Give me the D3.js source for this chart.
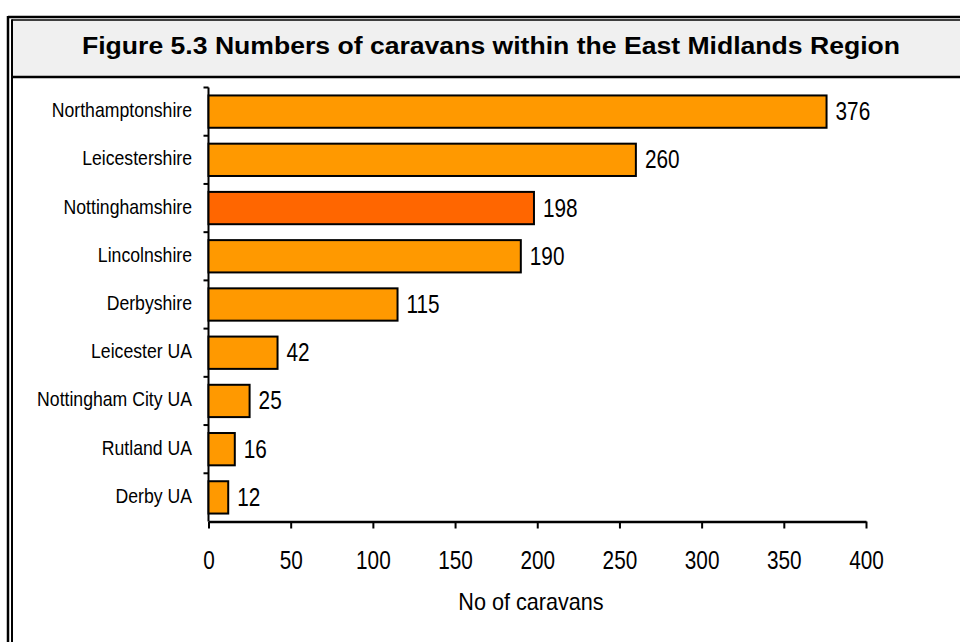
<!DOCTYPE html>
<html>
<head>
<meta charset="utf-8">
<script src="https://cdn.jsdelivr.net/npm/d3@7"></script>
<style>
  html, body { margin: 0; padding: 0; background: #fff; }
  svg { display: block; }
</style>
</head>
<body>
<svg id="chart" width="960" height="642"></svg>
<script>
// Caravan counts by area, East Midlands
const areas = ["Northamptonshire", "Leicestershire", "Nottinghamshire", "Lincolnshire",
  "Derbyshire", "Leicester UA", "Nottingham City UA", "Rutland UA", "Derby UA"];
const caravans = [376, 260, 198, 190, 115, 42, 25, 16, 12];
const highlighted = ["Nottinghamshire"];
const xTicks = [0, 50, 100, 150, 200, 250, 300, 350, 400];
const titleText = "Figure 5.3 Numbers of caravans within the East Midlands Region";
const xLabel = "No of caravans";

const svg = d3.select("#chart");
const sans = "'Liberation Sans', Arial, Helvetica, sans-serif";

// Condense text horizontally (no narrow face is available, so squeeze the glyphs)
function condense(sel, factor) {
  sel.each(function () {
    const w = this.getComputedTextLength();
    d3.select(this).attr("textLength", w * factor).attr("lengthAdjust", "spacingAndGlyphs");
  });
}

// Frame: double rule along the top and left edges
svg.append("rect").attr("x", 12).attr("y", 20.5).attr("width", 960).attr("height", 56)
  .attr("fill", "#f0f0f0");
svg.append("line").attr("x1", 8).attr("x2", 960).attr("y1", 17).attr("y2", 17)
  .attr("stroke", "#000").attr("stroke-width", 2.5);
svg.append("line").attr("x1", 8).attr("x2", 8).attr("y1", 16).attr("y2", 642)
  .attr("stroke", "#000").attr("stroke-width", 2.5);
svg.append("line").attr("x1", 11.5).attr("x2", 960).attr("y1", 20).attr("y2", 20)
  .attr("stroke", "#000").attr("stroke-width", 1.5);
svg.append("line").attr("x1", 12).attr("x2", 12).attr("y1", 19.5).attr("y2", 642)
  .attr("stroke", "#000").attr("stroke-width", 2);
svg.append("line").attr("x1", 12).attr("x2", 960).attr("y1", 77).attr("y2", 77)
  .attr("stroke", "#000").attr("stroke-width", 2.5);

svg.append("text")
  .attr("x", 491).attr("y", 54)
  .attr("text-anchor", "middle")
  .attr("textLength", 818).attr("lengthAdjust", "spacingAndGlyphs")
  .style("font-family", sans).style("font-weight", "bold").style("font-size", "23.5px")
  .text(titleText);

// Plot area
const x = d3.scaleLinear().domain([0, 400]).range([208.5, 866]);
const y = d3.scaleBand().domain(areas).range([87.5, 521.5]).paddingInner(0.33).paddingOuter(0.165);
const step = y.step();

// Category axis: ticks sit on the band boundaries
const yAxisG = svg.append("g");
yAxisG.append("line").attr("x1", x(0)).attr("x2", x(0))
  .attr("y1", y.range()[0]).attr("y2", y.range()[1])
  .attr("stroke", "#000").attr("stroke-width", 2);
const boundaries = areas.map((d, i) => y.range()[0] + i * step);
yAxisG.selectAll("line.tick").data(boundaries).join("line").attr("class", "tick")
  .attr("x1", x(0) - 5).attr("x2", x(0)).attr("y1", d => d).attr("y2", d => d)
  .attr("stroke", "#000").attr("stroke-width", 2);
yAxisG.selectAll("text").data(areas).join("text")
  .attr("x", 192).attr("y", d => y(d) + y.bandwidth() / 2 + 5.5)
  .attr("text-anchor", "end")
  .style("font-family", sans).style("font-size", "21px").attr("fill", "#000")
  .text(d => d)
  .call(condense, 0.84);

// Value axis
const xAxis = d3.axisBottom(x).tickValues(xTicks).tickSize(7).tickSizeOuter(0).tickPadding(23);
const xAxisG = svg.append("g").attr("transform", `translate(0,${y.range()[1]})`).call(xAxis);
xAxisG.select(".domain").attr("stroke", "#000").attr("stroke-width", 2.5);
xAxisG.selectAll(".tick line").attr("stroke", "#000").attr("stroke-width", 2);
xAxisG.selectAll(".tick text")
  .style("font-family", sans).style("font-size", "25px").attr("fill", "#000")
  .call(condense, 0.83);

svg.append("text")
  .attr("x", 531).attr("y", 610)
  .attr("text-anchor", "middle")
  .style("font-family", sans).style("font-size", "24px")
  .text(xLabel)
  .call(condense, 0.9);

// Bars
const data = areas.map((a, i) => ({ area: a, value: caravans[i] }));
svg.append("g").selectAll("rect").data(data).join("rect")
  .attr("x", x(0)).attr("y", d => y(d.area))
  .attr("width", d => x(d.value) - x(0)).attr("height", y.bandwidth())
  .attr("fill", d => highlighted.includes(d.area) ? "#ff6600" : "#ff9900")
  .attr("stroke", "#000").attr("stroke-width", 2);

// Value labels
svg.append("g").selectAll("text").data(data).join("text")
  .attr("x", d => x(d.value) + 9).attr("y", d => y(d.area) + y.bandwidth() / 2 + 8.5)
  .style("font-family", sans).style("font-size", "25px").attr("fill", "#000")
  .text(d => d.value)
  .call(condense, 0.83);
</script>
</body>
</html>
